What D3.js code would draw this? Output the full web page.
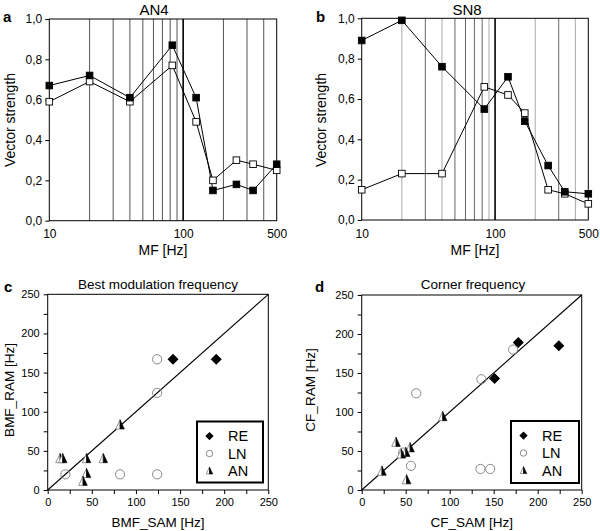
<!DOCTYPE html>
<html><head><meta charset="utf-8">
<script src="https://cdn.jsdelivr.net/npm/d3@7"></script>
<style>body{margin:0;background:#fff}svg{display:block;font-family:"Liberation Sans",Arial,sans-serif}</style>
</head><body>
<svg id="c" width="600" height="531"></svg>
<script>
// ---- data ----
const mf = [10, 20, 40, 83, 125, 167, 250, 333, 500];
const an4Filled = [0.67, 0.72, 0.61, 0.87, 0.61, 0.15, 0.18, 0.15, 0.28];
const an4Open   = [0.59, 0.69, 0.59, 0.77, 0.49, 0.20, 0.30, 0.28, 0.25];
const sn8Filled = [0.89, 0.99, 0.76, 0.55, 0.71, 0.49, 0.27, 0.14, 0.13];
const sn8Open   = [0.15, 0.23, 0.23, 0.66, 0.62, 0.53, 0.15, 0.13, 0.08];
const gridMF = [20, 30, 40, 50, 60, 70, 80, 90, 100, 200, 300, 400];
const mfTickLabels = [10, 100, 500];
const vsTicks = [0, 0.2, 0.4, 0.6, 0.8, 1.0];

const bmfRE = [[142, 167], [191, 167]];
const bmfLN = [[124, 167], [124, 124], [20, 20], [82, 20], [124, 20]];
const bmfAN = [[14, 40], [17, 40], [44, 40], [63, 40], [82, 83], [44, 21], [40, 11]];
const cfRE = [[178, 189], [151, 143], [224, 185]];
const cfLN = [[172, 180], [136, 142], [62, 124], [56, 31], [135, 27], [146, 27], [47, 48]];
const cfAN = [[39, 61], [55, 54], [50, 48], [45, 46], [92, 94], [23, 24], [51, 13]];
const scatTicks = [0, 50, 100, 150, 200, 250];
const scatMinor = [25, 75, 125, 175, 225];
const legendItems = ["RE", "LN", "AN"];

const svg = d3.select("#c");
const fmt = d3.format(".1f");
const comma = v => fmt(v).replace(".", ",");

function linePanel(o) {
  const x = d3.scaleLog().domain([10, 500]).range(o.xr);
  const y = d3.scaleLinear().domain([0, 1]).range(o.yr);
  const g = svg.append("g");
  gridMF.forEach((v, i) => {
    g.append("line").attr("x1", x(v)).attr("x2", x(v)).attr("y1", o.yr[0]).attr("y2", o.yr[1])
      .attr("stroke", v === 100 ? "#000" : o.gridColor(v)).attr("stroke-width", v === 100 ? 1.6 : 1);
  });
  g.append("rect").attr("x", o.xr[0]).attr("y", o.yr[1]).attr("width", o.xr[1] - o.xr[0])
    .attr("height", o.yr[0] - o.yr[1]).attr("fill", "none").attr("stroke", "#000").attr("stroke-width", 1);
  const ya = d3.axisLeft(y).tickValues(vsTicks).tickFormat(comma).tickSize(4).tickPadding(3);
  const yg = g.append("g").attr("transform", `translate(${o.xr[0]},0)`).call(ya);
  yg.select(".domain").remove();
  yg.selectAll("text").attr("font-size", 12).attr("fill", "#000").attr("font-family", "Liberation Sans, Arial");
  const xa = d3.axisBottom(x).tickValues(mfTickLabels).tickFormat(d3.format("d")).tickSize(0).tickPadding(9);
  const xg = g.append("g").attr("transform", `translate(0,${o.yr[0]})`).call(xa);
  xg.select(".domain").remove();
  xg.selectAll("text").attr("font-size", 12).attr("fill", "#000").attr("font-family", "Liberation Sans, Arial");
  const line = d3.line().x(d => x(d[0])).y(d => y(d[1]));
  [[o.open, "#fff"], [o.filled, "#000"]].forEach(([vals, fill]) => {
    const pts = mf.map((m, i) => [m, vals[i]]);
    g.append("path").attr("d", line(pts)).attr("fill", "none").attr("stroke", "#000").attr("stroke-width", 1);
  });
  [[o.open, "#fff"], [o.filled, "#000"]].forEach(([vals, fill]) => {
    const pts = mf.map((m, i) => [m, vals[i]]);
    g.selectAll(null).data(pts).join("rect")
      .attr("x", d => x(d[0]) - 3.3).attr("y", d => y(d[1]) - 3.3).attr("width", 6.6).attr("height", 6.6)
      .attr("fill", fill).attr("stroke", "#000").attr("stroke-width", 0.9);
  });
  svg.append("text").attr("x", o.titleX).attr("y", 15).attr("text-anchor", "middle").attr("font-size", 15).text(o.title);
  svg.append("text").attr("x", o.letterX).attr("y", 22).attr("font-size", 15).attr("font-weight", "bold").text(o.letter);
  svg.append("text").attr("x", (o.xr[0] + o.xr[1]) / 2).attr("y", 255).attr("text-anchor", "middle").attr("font-size", 14).text("MF [Hz]");
  svg.append("text").attr("transform", `translate(${o.ylabX},120) rotate(-90)`).attr("text-anchor", "middle")
    .attr("dy", "0.35em").attr("font-size", 14).text("Vector strength");
}

linePanel({xr: [49.3, 276.7], yr: [220.7, 19], filled: an4Filled, open: an4Open, title: "AN4", titleX: 154,
  letter: "a", letterX: 3, ylabX: 10, gridColor: v => "#555"});
const darkB = new Set([30, 50, 60, 70, 80, 300]);
linePanel({xr: [361.7, 588.3], yr: [220, 18.3], filled: sn8Filled, open: sn8Open, title: "SN8", titleX: 467,
  letter: "b", letterX: 316, ylabX: 321, gridColor: v => darkB.has(v) ? "#666" : "#aaa"});

function triangle(g, cx, cy, s = 1) {
  const w = 4.3 * s, t = 5.2 * s, b = 4 * s;
  g.append("path").attr("d", `M${cx},${cy - t}L${cx - w},${cy + b}L${cx},${cy + b}Z`)
    .attr("fill", "#fff").attr("stroke", "#888").attr("stroke-width", 0.9);
  g.append("path").attr("d", `M${cx},${cy - t}L${cx},${cy + b}L${cx + w},${cy + b}Z`)
    .attr("fill", "#000").attr("stroke", "#000").attr("stroke-width", 0.6);
}
function diamond(g, cx, cy, s = 1) {
  const r = 5.5 * s;
  g.append("path").attr("d", `M${cx},${cy - r}L${cx + r},${cy}L${cx},${cy + r}L${cx - r},${cy}Z`).attr("fill", "#000");
}
function circle(g, cx, cy, s = 1) {
  g.append("circle").attr("cx", cx).attr("cy", cy).attr("r", 4.6 * s).attr("fill", "none").attr("stroke", "#888").attr("stroke-width", 1);
}

function scatterPanel(o) {
  const x = d3.scaleLinear().domain([0, 250]).range(o.xr);
  const y = d3.scaleLinear().domain([0, 250]).range(o.yr);
  const g = svg.append("g");
  g.append("rect").attr("x", o.xr[0]).attr("y", o.yr[1]).attr("width", o.xr[1] - o.xr[0])
    .attr("height", o.yr[0] - o.yr[1]).attr("fill", "none").attr("stroke", "#000").attr("stroke-width", 1);
  const xg = g.append("g").attr("transform", `translate(0,${o.yr[0]})`)
    .call(d3.axisBottom(x).tickValues(scatTicks.concat(scatMinor)).tickFormat(d => scatTicks.includes(d) ? d : "").tickSize(4).tickPadding(4));
  const yg = g.append("g").attr("transform", `translate(${o.xr[0]},0)`)
    .call(d3.axisLeft(y).tickValues(scatTicks.concat(scatMinor)).tickFormat(d => scatTicks.includes(d) ? d : "").tickSize(4).tickPadding(4));
  [xg, yg].forEach(a => { a.select(".domain").remove(); a.selectAll("text").attr("font-size", 11).attr("fill", "#000").attr("font-family", "Liberation Sans, Arial"); });
  g.append("line").attr("x1", x(0)).attr("y1", y(0)).attr("x2", x(250)).attr("y2", y(250)).attr("stroke", "#000").attr("stroke-width", 1.1);
  o.ln.forEach(d => circle(g, x(d[0]), y(d[1])));
  o.an.forEach(d => triangle(g, x(d[0]), y(d[1])));
  o.re.forEach(d => diamond(g, x(d[0]), y(d[1])));
  const L = o.legend;
  g.append("rect").attr("x", L[0]).attr("y", L[1]).attr("width", L[2]).attr("height", L[3])
    .attr("fill", "#fff").attr("stroke", "#000").attr("stroke-width", 2);
  legendItems.forEach((name, i) => {
    const cy = L[1] + 14.5 + i * 17.5;
    const mx = L[0] + 12.5;
    if (name === "RE") diamond(g, mx, cy, 0.75); else if (name === "LN") circle(g, mx, cy, 0.7); else triangle(g, mx, cy, 0.75);
    g.append("text").attr("x", L[0] + 31).attr("y", cy).attr("dy", "0.36em").attr("font-size", 14.5).text(name);
  });
  svg.append("text").attr("x", o.titleX).attr("y", 288.5).attr("text-anchor", "middle").attr("font-size", 13.5).text(o.title);
  svg.append("text").attr("x", o.letterX).attr("y", 292).attr("font-size", 15).attr("font-weight", "bold").text(o.letter);
  svg.append("text").attr("x", (o.xr[0] + o.xr[1]) / 2).attr("y", 527).attr("text-anchor", "middle").attr("font-size", 13.5).text(o.xlab);
  svg.append("text").attr("transform", `translate(${o.ylabX},390) rotate(-90)`).attr("text-anchor", "middle")
    .attr("dy", "0.35em").attr("font-size", 13.5).text(o.ylab);
}

scatterPanel({xr: [47.7, 268.3], yr: [490, 294.3], re: bmfRE, ln: bmfLN, an: bmfAN, title: "Best modulation frequency",
  titleX: 158, letter: "c", letterX: 4, xlab: "BMF_SAM [Hz]", ylab: "BMF_RAM [Hz]", ylabX: 9, legend: [197, 421.5, 66, 61]});
scatterPanel({xr: [361.7, 581.7], yr: [490, 295], re: cfRE, ln: cfLN, an: cfAN, title: "Corner frequency",
  titleX: 473, letter: "d", letterX: 315, xlab: "CF_SAM [Hz]", ylab: "CF_RAM [Hz]", ylabX: 310, legend: [511, 421, 68, 62]});
</script>
</body></html>
